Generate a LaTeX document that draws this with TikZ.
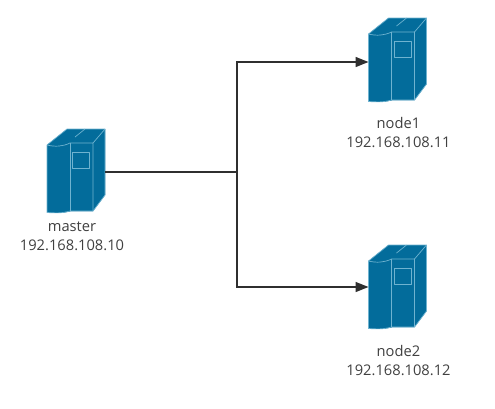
\documentclass[tikz,border=0pt]{standalone}
\usepackage{fontspec}
\setmainfont{Open Sans}
\usetikzlibrary{arrows.meta}
\definecolor{srv}{HTML}{036C9B}
\definecolor{srvline}{HTML}{6FB3D0}
\definecolor{wire}{HTML}{2F2F2F}
\tikzset{
  x=1pt,y=-1pt,
  wirepath/.style={draw=wire,line width=1.5pt},
  wirearrow/.style={wirepath,-{Triangle[length=13pt,width=10pt]}},
  lbl/.style={font=\fontsize{14.7}{19}\selectfont,text=black!75,align=center,inner sep=0pt},
  srvshape/.style={fill=srv,draw=srvline,line width=0.7pt,line join=round},
  server/.pic={
    \fill[srv] (0,16) -- (20,0) -- (58,0) -- (58,66) -- (46,82) -- (23,82) -- (23,82.5)
      .. controls (14,84.5) and (8,84) .. (0,83.5) -- cycle;
    \draw[srvshape] (0,16) -- (20,0) -- (58,0) -- (58,66) -- (46,82) -- (23,82)
      .. controls (14,84.5) and (8,84) .. (0,83.5) -- cycle;
    \draw[srvshape,fill=none] (0,16) .. controls (8,18) and (16,17.5) .. (23,14) -- (46,14) -- (46,82);
    \draw[srvshape,fill=none] (23,14) -- (23,82);
    \draw[srvshape,fill=none] (46,14) -- (58,0);
    \draw[srvshape,fill=none] (28,8) -- (38,0);
    \draw[srvshape,fill=none] (25.5,23.5) rectangle (42.5,39);
    \coordinate (-left) at (0,44);
    \coordinate (-leftup) at (0,42);
    \coordinate (-right) at (58,43);
  }
}
\begin{document}
\begin{tikzpicture}
\useasboundingbox (0,0) rectangle (495,408);
\fill[white] (0,0) rectangle (495,408);
\pic (m) at (47,129) {server};
\pic (a) at (368.5,18) {server};
\pic (b) at (368.5,245) {server};
\coordinate (j) at (237,172);
\draw[wirepath] (m-right) -- (j);
\draw[wirearrow] (j) |- (a-left);
\draw[wirearrow] (j) |- (b-leftup);
\node[lbl] (tm) at (72,236) {master\\192.168.108.10};
\node[lbl] (ta) at (398.5,133) {node1\\192.168.108.11};
\node[lbl] (tb) at (398.5,361) {node2\\192.168.108.12};
\end{tikzpicture}
\end{document}
